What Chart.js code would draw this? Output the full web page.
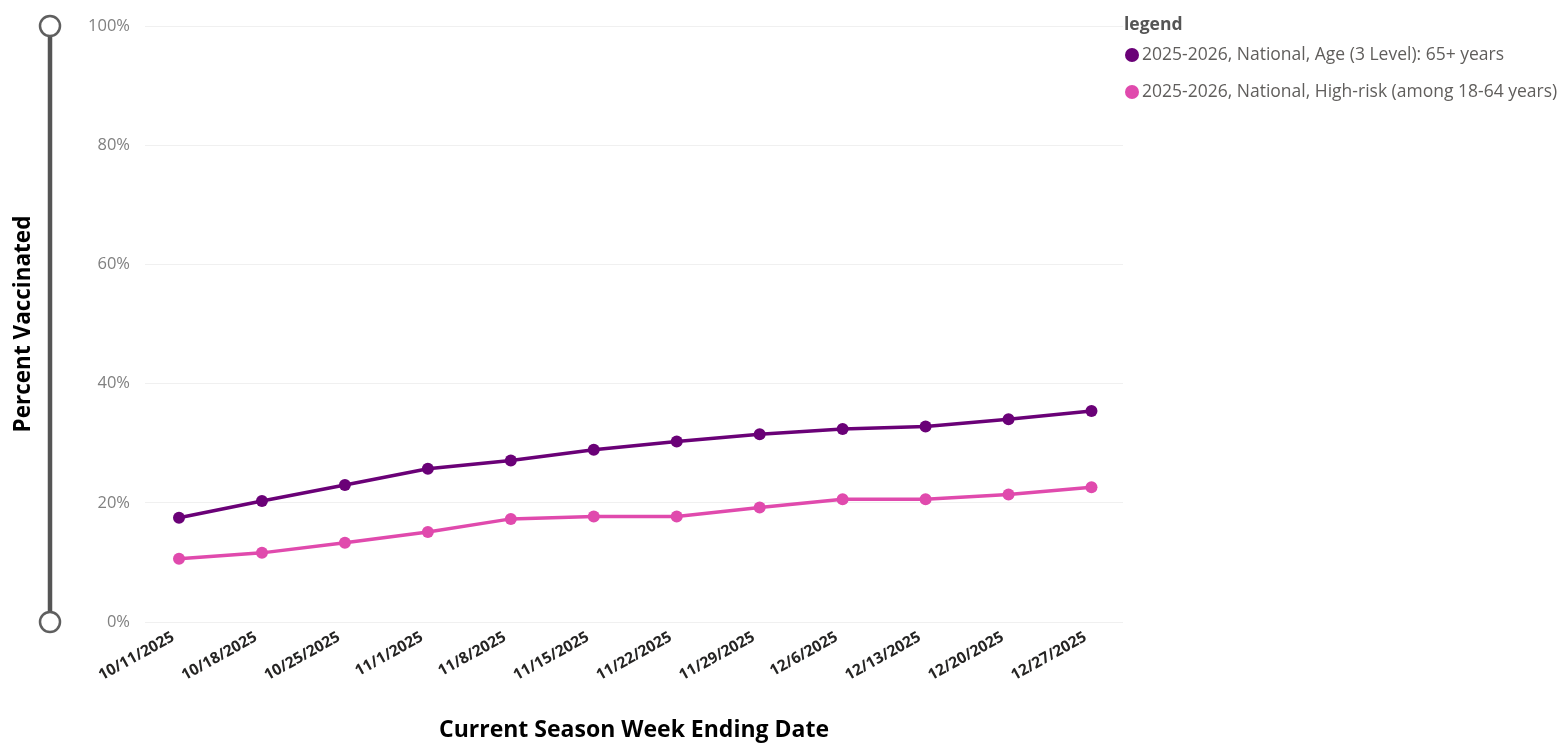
<!DOCTYPE html>
<html>
<head>
<meta charset="utf-8">
<script src="https://cdn.jsdelivr.net/npm/chart.js@4/dist/chart.umd.min.js"></script>
<style>
  html, body { margin: 0; padding: 0; background: #fff; }
  #wrap { width: 1559px; height: 745px; position: relative; }
</style>
</head>
<body>
<div id="wrap"><canvas id="c" width="1559" height="745"></canvas></div>
<script>
const weekEnding = ['10/11/2025','10/18/2025','10/25/2025','11/1/2025','11/8/2025','11/15/2025','11/22/2025','11/29/2025','12/6/2025','12/13/2025','12/20/2025','12/27/2025'];
const age65Plus = [17.5, 20.3, 23.0, 25.7, 27.1, 28.9, 30.3, 31.5, 32.4, 32.8, 34.0, 35.4];
const highRisk18to64 = [10.6, 11.6, 13.3, 15.1, 17.3, 17.7, 17.7, 19.2, 20.6, 20.6, 21.4, 22.6];
const seriesNames = ['2025-2026, National, Age (3 Level): 65+ years', '2025-2026, National, High-risk (among 18-64 years)'];
const yTicks = [0, 20, 40, 60, 80, 100];

const FONT = "'Segoe UI', 'Open Sans', 'Noto Sans', sans-serif";
const colors = ['#6a0177', '#e04aad'];

const toPoints = arr => arr.map((v, i) => ({ x: i, y: v }));

const sliderPlugin = {
  id: 'slider',
  afterDraw(chart) {
    const ctx = chart.ctx;
    const y = chart.scales.y;
    const top = y.getPixelForValue(100), bottom = y.getPixelForValue(0);
    const x = 50;
    ctx.save();
    ctx.strokeStyle = '#555555';
    ctx.lineWidth = 4.5;
    ctx.beginPath();
    ctx.moveTo(x, top);
    ctx.lineTo(x, bottom);
    ctx.stroke();
    [top, bottom].forEach(cy => {
      ctx.beginPath();
      ctx.arc(x, cy, 10, 0, Math.PI * 2);
      ctx.fillStyle = '#ffffff';
      ctx.fill();
      ctx.lineWidth = 2.5;
      ctx.strokeStyle = '#5f5f5f';
      ctx.stroke();
    });
    ctx.restore();
  }
};

const legendPlugin = {
  id: 'customLegend',
  afterDraw(chart) {
    const ctx = chart.ctx;
    const x0 = chart.chartArea.right + 1;
    ctx.save();
    ctx.textBaseline = 'middle';
    ctx.textAlign = 'left';
    ctx.font = 'bold 17.5px ' + FONT;
    ctx.fillStyle = '#555555';
    ctx.fillText('legend', x0, 25);
    ctx.font = '17.5px ' + FONT;
    chart.data.datasets.forEach((ds, i) => {
      const cy = 55 + i * 37;
      ctx.beginPath();
      ctx.arc(x0 + 8, cy, 7, 0, Math.PI * 2);
      ctx.fillStyle = ds.borderColor;
      ctx.fill();
      ctx.fillStyle = '#605e5c';
      ctx.fillText(ds.label, x0 + 18, cy);
    });
    ctx.restore();
  }
};

new Chart(document.getElementById('c'), {
  type: 'line',
  data: {
    datasets: [
      { label: seriesNames[0], data: toPoints(age65Plus), borderColor: colors[0], backgroundColor: colors[0],
        borderWidth: 3.5, pointRadius: 6, pointBackgroundColor: colors[0], pointBorderWidth: 0, tension: 0 },
      { label: seriesNames[1], data: toPoints(highRisk18to64), borderColor: colors[1], backgroundColor: colors[1],
        borderWidth: 3.5, pointRadius: 6, pointBackgroundColor: colors[1], pointBorderWidth: 0, tension: 0 }
    ]
  },
  options: {
    responsive: false,
    animation: false,
    layout: { padding: { top: 26, right: 436, left: 0, bottom: 0 } },
    plugins: { legend: { display: false }, tooltip: { enabled: false } },
    scales: {
      x: {
        type: 'linear',
        min: -0.41,
        max: 11.38,
        afterBuildTicks(scale) { scale.ticks = weekEnding.map((_, i) => ({ value: i })); },
        afterFit(scale) { scale.height = 123; },
        grid: { display: false, drawTicks: false },
        border: { display: false },
        ticks: {
          autoSkip: false,
          minRotation: 29,
          maxRotation: 29,
          padding: 6,
          labelOffset: -6,
          color: '#252423',
          font: { family: FONT, size: 15.5, weight: 'bold' },
          callback: v => weekEnding[v]
        },
        title: {
          display: true,
          text: 'Current Season Week Ending Date',
          color: '#000000',
          font: { family: FONT, size: 23, weight: 'bold' },
          padding: { top: 0, bottom: 1 }
        }
      },
      y: {
        min: 0,
        max: 100,
        afterBuildTicks(scale) { scale.ticks = yTicks.map(v => ({ value: v })); },
        afterFit(scale) { scale.width = 145; },
        grid: { color: '#f0f0f0', lineWidth: 1, drawTicks: false },
        border: { display: false },
        ticks: {
          padding: 15,
          color: '#808080',
          font: { family: FONT, size: 16.5 },
          callback: v => v + '%'
        },
        title: {
          display: true,
          text: 'Percent Vaccinated',
          color: '#000000',
          font: { family: FONT, size: 22.5, weight: 'bold' },
          padding: { top: 10, bottom: 0 }
        }
      }
    }
  },
  plugins: [sliderPlugin, legendPlugin]
});
</script>
</body>
</html>
